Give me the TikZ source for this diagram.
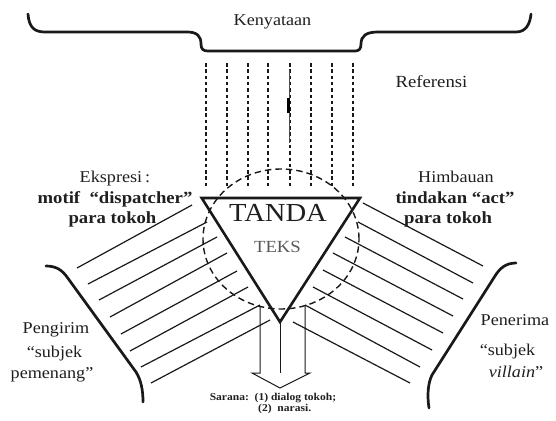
\documentclass[tikz,border=0pt]{standalone}
\usepackage{fontspec}
\setmainfont{Liberation Serif}
\usepackage{graphicx}
\newcommand{\hx}[1]{\scalebox{1.1}[1]{#1}}
\tikzset{
  lbl/.style={anchor=base, inner sep=0pt, text=black!88, font=\fontsize{16.5}{19}\selectfont},
  blbl/.style={lbl, font=\fontsize{17}{20}\selectfont\bfseries},
  slbl/.style={lbl, font=\fontsize{10.5}{12}\selectfont\bfseries},
  bracepath/.style={line width=2.7pt, line cap=round, line join=round, black!90},
  triline/.style={line width=2.6pt, line join=miter, black!90},
  hatch/.style={line width=1.2pt, black!90},
  refline/.style={line width=1.3pt, dash pattern=on 3.5pt off 2.8pt, black!90},
  circline/.style={line width=1.4pt, dash pattern=on 6.5pt off 4pt, black!90},
  arrline/.style={line width=1pt, black!90, line join=miter}
}
\begin{document}
\begin{tikzpicture}[x=1pt,y=-1pt]
\useasboundingbox (0,0) rectangle (556,420);
\fill[white] (0,0) rectangle (556,420);

% top brace
\draw[bracepath] (28,14) .. controls (29,28) and (35,32) .. (45,32)
  -- (187,32) .. controls (197,32) and (201,36) .. (201,44)
  .. controls (201,49) and (203,51) .. (208,51)
  -- (355,51) .. controls (359,51) and (361,49) .. (361,44)
  .. controls (361,36) and (366,32) .. (378,32)
  -- (516,32) .. controls (526,32) and (530,24) .. (531,14);

% reference dashed lines
\foreach \xx in {206,227,248,268,290,311,332,353}
  \draw[refline] (\xx,63) -- (\xx,188);
\draw[line width=0.6pt, black!70] (289,70) -- (289,143);
\fill[black] (287.3,98) rectangle (290.3,112.5);

% circle (ellipse)
\coordinate (cc) at (281,239);
\draw[circline] (cc) ellipse [x radius=78pt, y radius=70pt];

% triangle
\coordinate (tA) at (201.7,198);
\coordinate (tB) at (360,198);
\coordinate (tC) at (280,322);
\draw[triline] (tA) -- (tB) -- (tC) -- cycle;

% left hatching
\foreach \ax/\ay/\bx/\by in {77/268/192/205, 88/284/207/222, 99/300/217/237, 110/317/227/253,
  121/334/237/271, 130/351/248/287, 141/367/260/305, 151/383/270/320}
  \draw[hatch] (\ax,\ay) -- (\bx,\by);
% right hatching
\foreach \ax/\ay/\bx/\by in {363/203/483/266, 358/222/473/283, 345/237/463/299, 333/253/453/316,
  323/270/443/333, 313/287/432/350, 305/305/420/367, 293/322/410/383}
  \draw[hatch] (\ax,\ay) -- (\bx,\by);

% side braces
\draw[bracepath] (46,266) .. controls (56,266) and (62,270) .. (67,277)
  -- (136,372) .. controls (141,380) and (143,390) .. (143,402);
\draw[bracepath] (516,263) .. controls (506,263) and (500,268) .. (495,276)
  -- (432,375) .. controls (428,383) and (427,395) .. (429,408);

% arrow
\coordinate (aL) at (260,306.5);
\coordinate (aR) at (305,305.5);
\coordinate (aTip) at (280,388);
\draw[arrline] (aL) -- (260,373) -- (252,373) -- (aTip) -- (310,373) -- (305,373) -- (aR);
\draw[arrline] (tC) -- (280,373);

% texts
\node[lbl] (kenyataan) at (272.5,26) {\hx{Kenyataan}};
\node[lbl, font=\fontsize{17}{20}\selectfont] (referensi) at (431.5,87) {\hx{Referensi}};
\node[lbl] (ekspresi) at (115,182) {\hx{Ekspresi\,:}};
\node[blbl] (motif) at (115,203) {\hx{motif\ \ “dispatcher”}};
\node[blbl] (paraL) at (112.5,223) {\hx{para tokoh}};
\node[lbl] (himbauan) at (456,182) {\hx{Himbauan}};
\node[blbl] (tindakan) at (455,203) {\hx{tindakan “act”}};
\node[blbl] (paraR) at (448,223) {\hx{para tokoh}};
\node[lbl, font=\fontsize{26}{30}\selectfont] (tanda) at (278,221) {\hx{TANDA}};
\node[lbl, text=black!65, font=\fontsize{17}{20}\selectfont] (teks) at (277.5,252) {\hx{TEKS}};
\node[lbl] (pengirim) at (56,333) {\hx{Pengirim}};
\node[lbl] (subjL) at (54.5,357) {\hx{“subjek}};
\node[lbl] (pemenang) at (52,378) {\hx{pemenang”}};
\node[lbl] (penerima) at (515,325) {\hx{Penerima}};
\node[lbl] (subjR) at (507.5,355) {\hx{“subjek}};
\node[lbl] (villain) at (516,377) {\hx{\textit{villain}”}};
\node[slbl] (sarana1) at (273,400) {\hx{Sarana:\ \ (1) dialog tokoh;}};
\node[slbl, anchor=base west] (sarana2) at (258,411) {\hx{(2)\ \ narasi.}};
\end{tikzpicture}
\end{document}
